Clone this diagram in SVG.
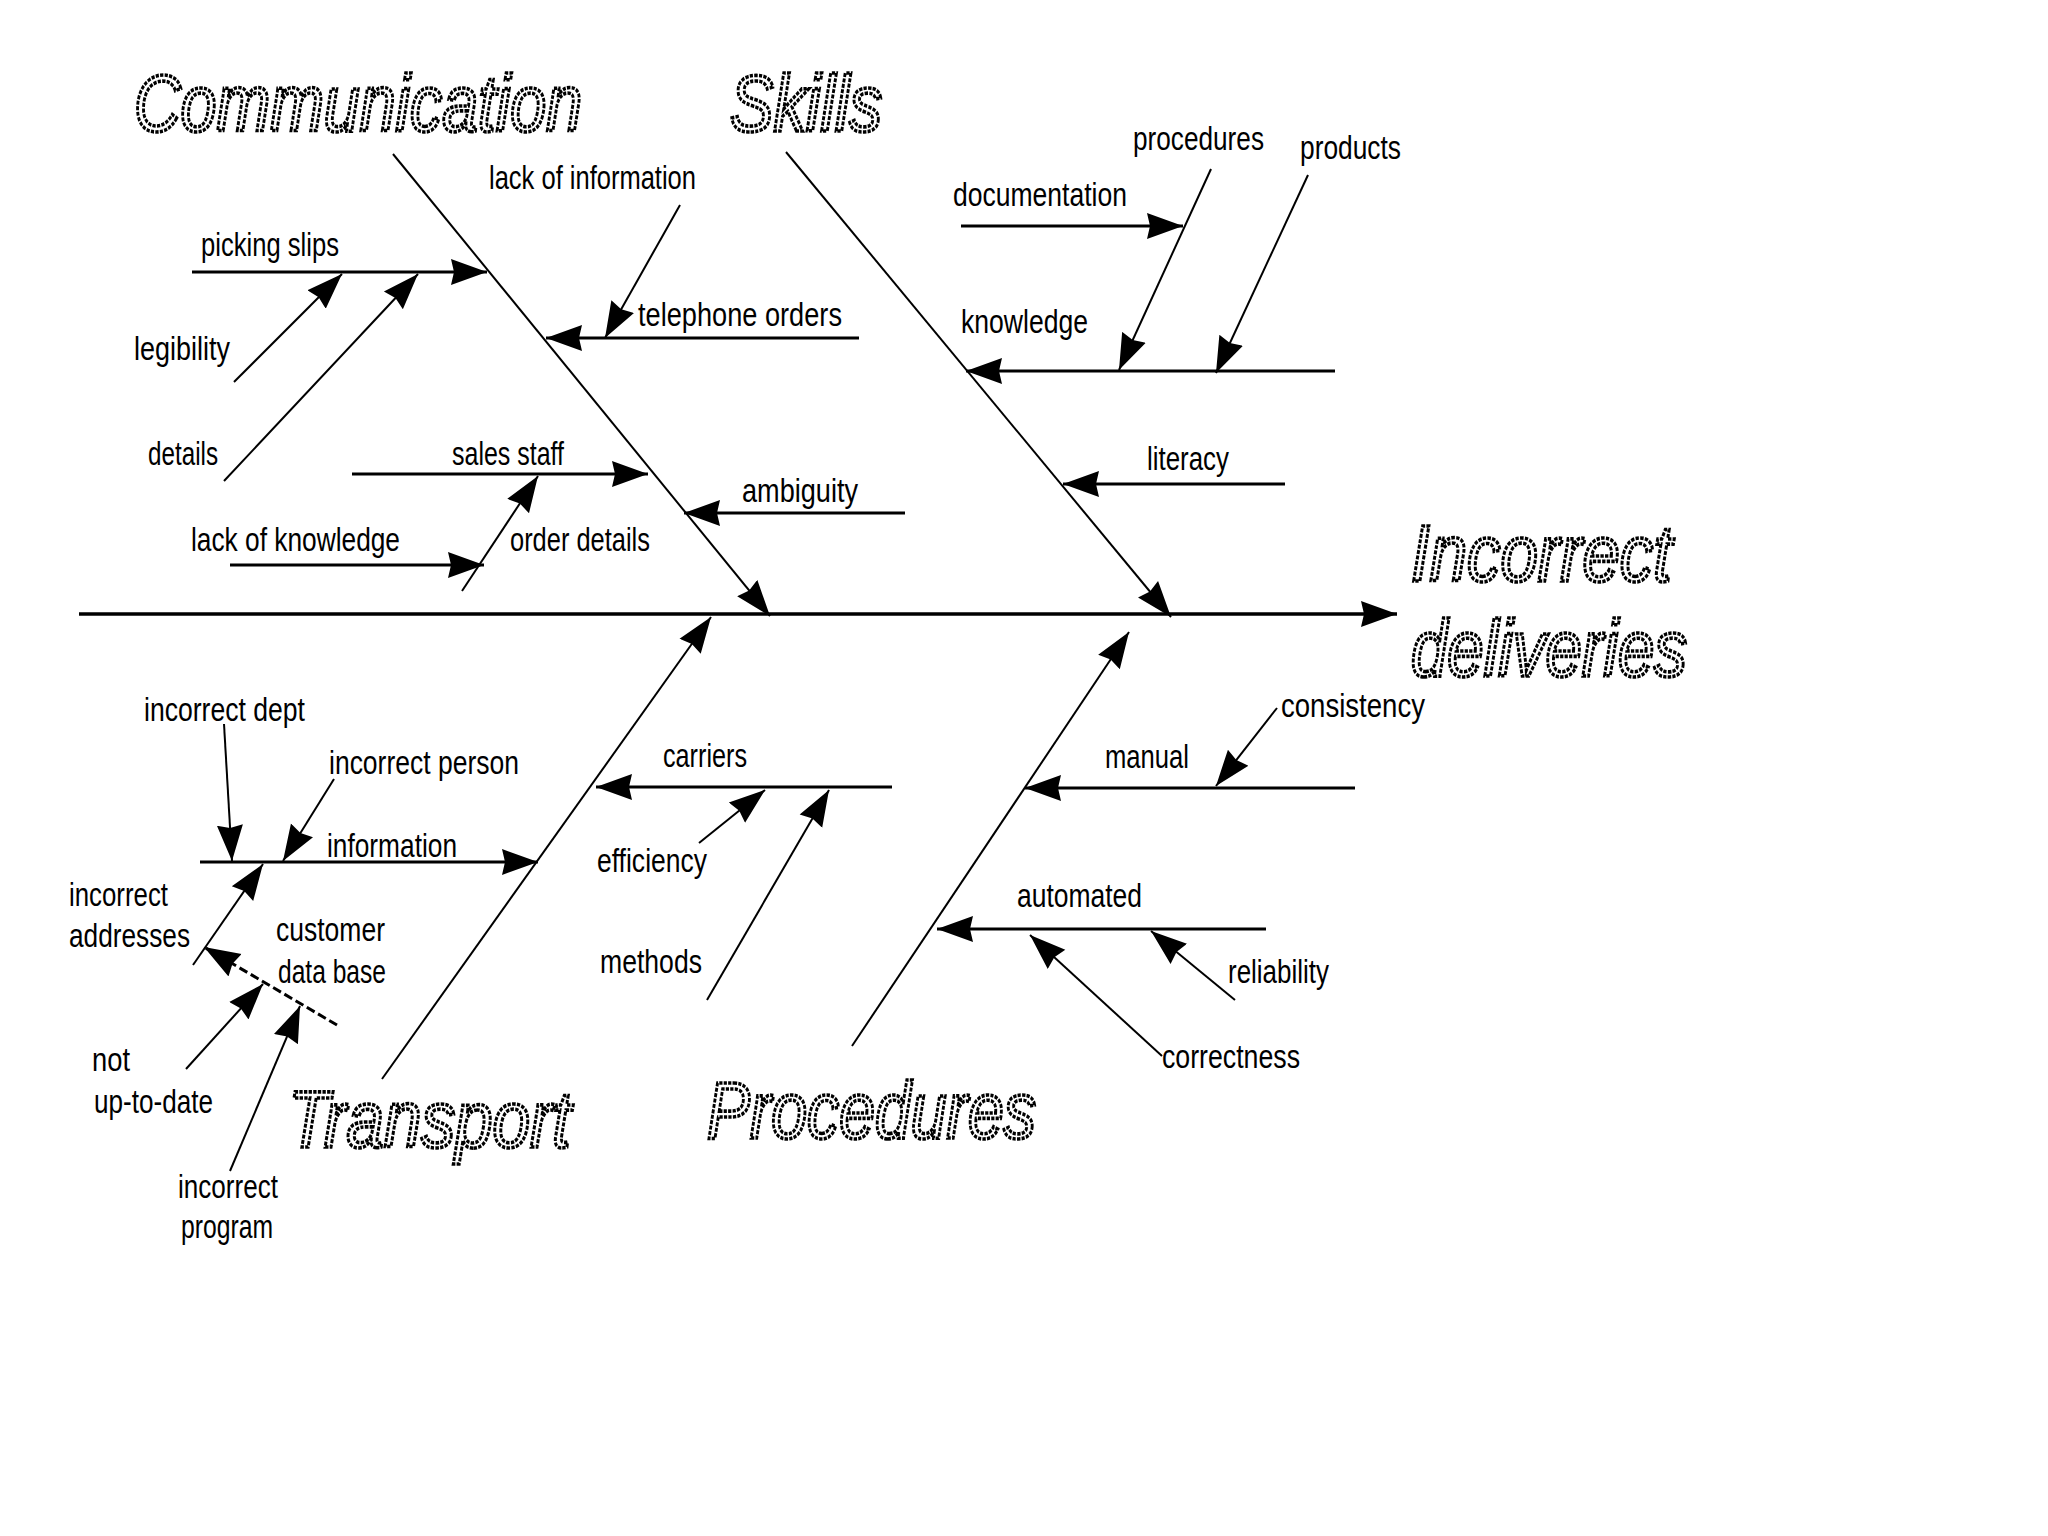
<svg xmlns="http://www.w3.org/2000/svg" width="2048" height="1536" viewBox="0 0 2048 1536">
<style>
.bg{fill:#fff}
.spine{stroke:#000;stroke-width:3.5;fill:none}
.bone{stroke:#000;stroke-width:2;fill:none}
.sub{stroke:#000;stroke-width:3;fill:none}
.twig{stroke:#000;stroke-width:2;fill:none}
.dash{stroke:#000;stroke-width:3;fill:none;stroke-dasharray:9 4}
.lbl{font-family:"Liberation Sans",Arial,sans-serif;font-size:33px;fill:#000}
.title{font-family:"Liberation Sans",Arial,sans-serif;font-size:80px;font-style:italic;fill:#fff;stroke:#000;stroke-width:3.6;stroke-dasharray:4 1.5}
</style>
<defs>
<marker id="ah" markerUnits="userSpaceOnUse" markerWidth="38" markerHeight="28" refX="36" refY="14" orient="auto">
<path d="M0,1 L36,14 L0,27 L3,14 z" fill="#000"/>
</marker>
</defs>
<rect class="bg" x="0" y="0" width="2048" height="1536"/>

<g id="connectors">
<line class="spine" x1="79" y1="614" x2="1397" y2="614" marker-end="url(#ah)"/>
<line class="bone" x1="393" y1="154" x2="770" y2="616" marker-end="url(#ah)"/>
<line class="bone" x1="786" y1="152" x2="1171" y2="617" marker-end="url(#ah)"/>
<line class="bone" x1="382" y1="1079" x2="711" y2="617" marker-end="url(#ah)"/>
<line class="bone" x1="852" y1="1046" x2="1129" y2="632" marker-end="url(#ah)"/>

<line class="sub" x1="192" y1="272" x2="487" y2="272" marker-end="url(#ah)"/>
<line class="twig" x1="234" y1="382" x2="342" y2="274" marker-end="url(#ah)"/>
<line class="twig" x1="224" y1="481" x2="418" y2="274" marker-end="url(#ah)"/>
<line class="twig" x1="680" y1="205" x2="605" y2="338" marker-end="url(#ah)"/>
<line class="sub" x1="859" y1="338" x2="546" y2="338" marker-end="url(#ah)"/>
<line class="sub" x1="352" y1="474" x2="648" y2="474" marker-end="url(#ah)"/>
<line class="sub" x1="905" y1="513" x2="684" y2="513" marker-end="url(#ah)"/>
<line class="twig" x1="462" y1="591" x2="538" y2="476" marker-end="url(#ah)"/>
<line class="sub" x1="230" y1="565" x2="484" y2="565" marker-end="url(#ah)"/>

<line class="sub" x1="961" y1="226" x2="1183" y2="226" marker-end="url(#ah)"/>
<line class="twig" x1="1211" y1="169" x2="1119" y2="370" marker-end="url(#ah)"/>
<line class="twig" x1="1308" y1="175" x2="1216" y2="373" marker-end="url(#ah)"/>
<line class="sub" x1="1335" y1="371" x2="966" y2="371" marker-end="url(#ah)"/>
<line class="sub" x1="1285" y1="484" x2="1063" y2="484" marker-end="url(#ah)"/>

<line class="sub" x1="200" y1="862" x2="538" y2="862" marker-end="url(#ah)"/>
<line class="twig" x1="224" y1="724" x2="232" y2="861" marker-end="url(#ah)"/>
<line class="twig" x1="334" y1="779" x2="283" y2="861" marker-end="url(#ah)"/>
<line class="twig" x1="193" y1="965" x2="263" y2="864" marker-end="url(#ah)"/>
<line class="dash" x1="337" y1="1025" x2="204" y2="947" marker-end="url(#ah)"/>
<line class="twig" x1="186" y1="1069" x2="263" y2="984" marker-end="url(#ah)"/>
<line class="twig" x1="230" y1="1171" x2="300" y2="1006" marker-end="url(#ah)"/>
<line class="sub" x1="892" y1="787" x2="596" y2="787" marker-end="url(#ah)"/>
<line class="twig" x1="699" y1="843" x2="765" y2="790" marker-end="url(#ah)"/>
<line class="twig" x1="707" y1="1000" x2="829" y2="790" marker-end="url(#ah)"/>

<line class="sub" x1="1355" y1="788" x2="1025" y2="788" marker-end="url(#ah)"/>
<line class="twig" x1="1277" y1="708" x2="1216" y2="786" marker-end="url(#ah)"/>
<line class="sub" x1="1266" y1="929" x2="937" y2="929" marker-end="url(#ah)"/>
<line class="twig" x1="1235" y1="1000" x2="1151" y2="931" marker-end="url(#ah)"/>
<line class="twig" x1="1162" y1="1056" x2="1030" y2="935" marker-end="url(#ah)"/>
</g>

<g id="title-communication"><text class="title" x="134" y="131" textLength="448" lengthAdjust="spacingAndGlyphs">Communication</text></g>
<g id="title-skills"><text class="title" x="730" y="131" textLength="152" lengthAdjust="spacingAndGlyphs">Skills</text></g>
<g id="title-effect">
<text class="title" x="1411" y="581" textLength="261" lengthAdjust="spacingAndGlyphs">Incorrect</text>
<text class="title" x="1411" y="676" textLength="276" lengthAdjust="spacingAndGlyphs">deliveries</text>
</g>
<g id="title-transport"><text class="title" x="288" y="1147" textLength="283" lengthAdjust="spacingAndGlyphs">Transport</text></g>
<g id="title-procedures"><text class="title" x="707" y="1138" textLength="329" lengthAdjust="spacingAndGlyphs">Procedures</text></g>

<g id="labels-communication">
<text class="lbl" x="489" y="189" textLength="207" lengthAdjust="spacingAndGlyphs">lack of information</text>
<text class="lbl" x="201" y="256" textLength="138" lengthAdjust="spacingAndGlyphs">picking slips</text>
<text class="lbl" x="134" y="360" textLength="96" lengthAdjust="spacingAndGlyphs">legibility</text>
<text class="lbl" x="148" y="465" textLength="70" lengthAdjust="spacingAndGlyphs">details</text>
<text class="lbl" x="638" y="326" textLength="204" lengthAdjust="spacingAndGlyphs">telephone orders</text>
<text class="lbl" x="452" y="465" textLength="112" lengthAdjust="spacingAndGlyphs">sales staff</text>
<text class="lbl" x="742" y="502" textLength="116" lengthAdjust="spacingAndGlyphs">ambiguity</text>
<text class="lbl" x="191" y="551" textLength="209" lengthAdjust="spacingAndGlyphs">lack of knowledge</text>
<text class="lbl" x="510" y="551" textLength="140" lengthAdjust="spacingAndGlyphs">order details</text>
</g>
<g id="labels-skills">
<text class="lbl" x="953" y="206" textLength="174" lengthAdjust="spacingAndGlyphs">documentation</text>
<text class="lbl" x="1133" y="150" textLength="131" lengthAdjust="spacingAndGlyphs">procedures</text>
<text class="lbl" x="1300" y="159" textLength="101" lengthAdjust="spacingAndGlyphs">products</text>
<text class="lbl" x="961" y="333" textLength="127" lengthAdjust="spacingAndGlyphs">knowledge</text>
<text class="lbl" x="1147" y="470" textLength="82" lengthAdjust="spacingAndGlyphs">literacy</text>
</g>
<g id="labels-transport">
<text class="lbl" x="144" y="721" textLength="161" lengthAdjust="spacingAndGlyphs">incorrect dept</text>
<text class="lbl" x="329" y="774" textLength="190" lengthAdjust="spacingAndGlyphs">incorrect person</text>
<text class="lbl" x="327" y="857" textLength="130" lengthAdjust="spacingAndGlyphs">information</text>
<text class="lbl" x="69" y="906" textLength="99" lengthAdjust="spacingAndGlyphs">incorrect</text>
<text class="lbl" x="69" y="947" textLength="121" lengthAdjust="spacingAndGlyphs">addresses</text>
<text class="lbl" x="276" y="941" textLength="109" lengthAdjust="spacingAndGlyphs">customer</text>
<text class="lbl" x="278" y="983" textLength="108" lengthAdjust="spacingAndGlyphs">data base</text>
<text class="lbl" x="92" y="1071" textLength="38" lengthAdjust="spacingAndGlyphs">not</text>
<text class="lbl" x="94" y="1113" textLength="119" lengthAdjust="spacingAndGlyphs">up-to-date</text>
<text class="lbl" x="178" y="1198" textLength="100" lengthAdjust="spacingAndGlyphs">incorrect</text>
<text class="lbl" x="181" y="1238" textLength="92" lengthAdjust="spacingAndGlyphs">program</text>
<text class="lbl" x="663" y="767" textLength="84" lengthAdjust="spacingAndGlyphs">carriers</text>
<text class="lbl" x="597" y="872" textLength="110" lengthAdjust="spacingAndGlyphs">efficiency</text>
<text class="lbl" x="600" y="973" textLength="102" lengthAdjust="spacingAndGlyphs">methods</text>
</g>
<g id="labels-procedures">
<text class="lbl" x="1105" y="768" textLength="84" lengthAdjust="spacingAndGlyphs">manual</text>
<text class="lbl" x="1281" y="717" textLength="144" lengthAdjust="spacingAndGlyphs">consistency</text>
<text class="lbl" x="1017" y="907" textLength="125" lengthAdjust="spacingAndGlyphs">automated</text>
<text class="lbl" x="1228" y="983" textLength="101" lengthAdjust="spacingAndGlyphs">reliability</text>
<text class="lbl" x="1162" y="1068" textLength="138" lengthAdjust="spacingAndGlyphs">correctness</text>
</g>
</svg>
